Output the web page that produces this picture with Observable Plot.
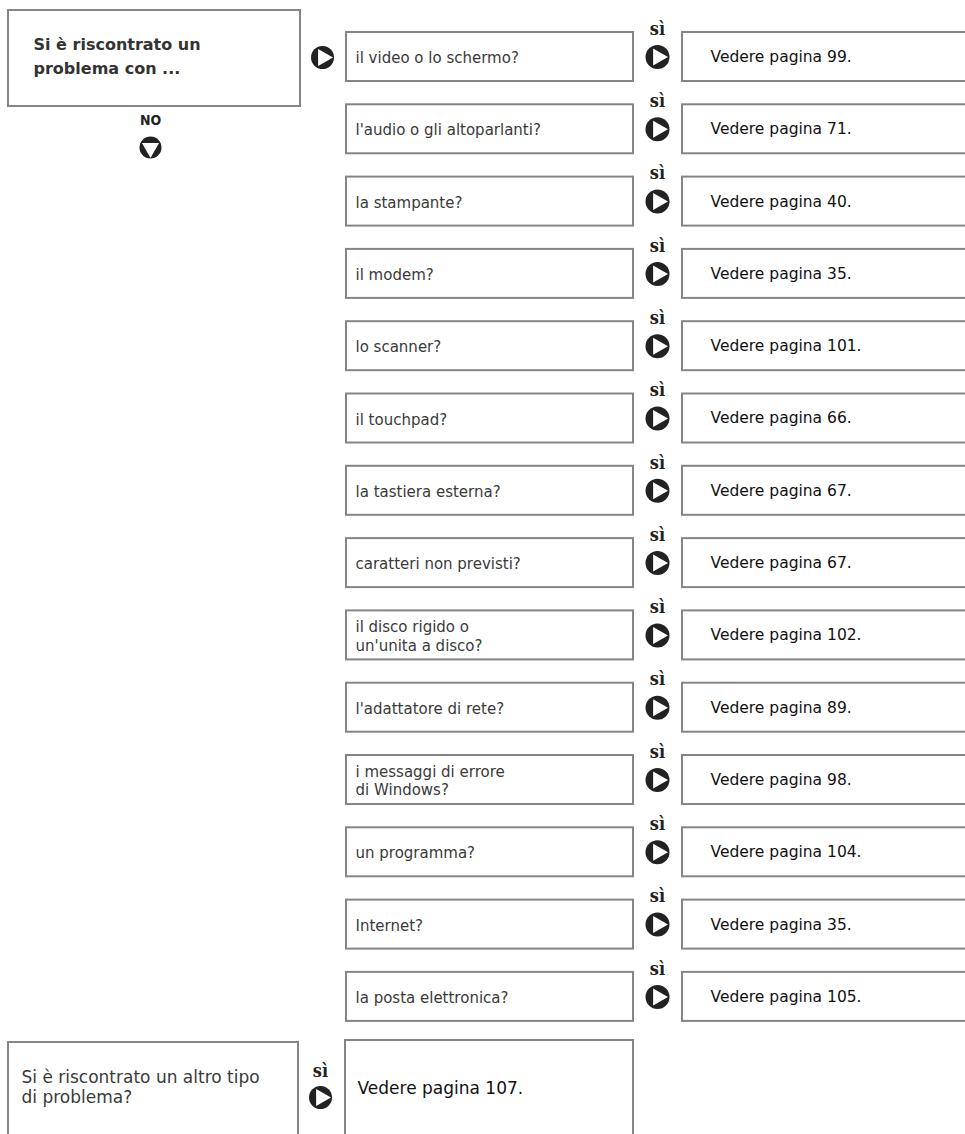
<!DOCTYPE html>
<html>
<head>
<meta charset="utf-8">
<script src="https://cdn.jsdelivr.net/npm/d3@7"></script>
<script src="https://cdn.jsdelivr.net/npm/@observablehq/plot@0.6"></script>
<style>
  html, body { margin: 0; padding: 0; background: #fff; }
  #chart svg { display: block; }
</style>
</head>
<body>
<div id="chart"></div>
<script>
// ---- data ----
const startQuestion = "Si è riscontrato un\nproblema con ...";
const questions = [
  "il video o lo schermo?",
  "l'audio o gli altoparlanti?",
  "la stampante?",
  "il modem?",
  "lo scanner?",
  "il touchpad?",
  "la tastiera esterna?",
  "caratteri non previsti?",
  "il disco rigido o\nun'unita a disco?",
  "l'adattatore di rete?",
  "i messaggi di errore\ndi Windows?",
  "un programma?",
  "Internet?",
  "la posta elettronica?"
];
const pages = [99, 71, 40, 35, 101, 66, 67, 67, 102, 89, 98, 104, 35, 105];
const otherQuestion = "Si è riscontrato un altro tipo\ndi problema?";
const otherPage = 107;
const yesLabel = "sì";
const noLabel = "NO";
const pagePrefix = "Vedere pagina ";

// ---- layout helpers ----
const rowTop = i => 32 + i * 72.3;
const rowH = 49;
const rowMid = i => rowTop(i) + rowH / 2;

const rows = questions.map((q, i) => ({q, page: pages[i], i}));

const rightTri = {draw(ctx, size) { const r = Math.sqrt(size); ctx.moveTo(-r*0.45, -r*0.6); ctx.lineTo(r*0.6, 0); ctx.lineTo(-r*0.45, r*0.6); ctx.closePath(); }};
const downTri = {draw(ctx, size) { const r = Math.sqrt(size); ctx.moveTo(-r*0.6, -r*0.45); ctx.lineTo(r*0.6, -r*0.45); ctx.lineTo(0, r*0.6); ctx.closePath(); }};

const boxStroke = "#858585";
const qFont = "'DejaVu Sans', sans-serif";
const yesFont = "'DejaVu Serif Condensed', serif";

const startNode = [{label: startQuestion}];
const otherNode = [{label: otherQuestion, page: otherPage}];

const chart = Plot.plot({
  width: 965,
  height: 1134,
  margin: 0,
  x: {domain: [0, 965], range: [0, 965], axis: null},
  y: {domain: [0, 1134], range: [0, 1134], axis: null},
  marks: [
    // start box
    Plot.rect(startNode, {x1: () => 8, x2: () => 300, y1: () => 10, y2: () => 106, fill: "white", stroke: boxStroke, strokeWidth: 2}),
    Plot.text(startNode, {x: () => 33, y: () => 54, text: "label", textAnchor: "start", fontSize: 16, fontWeight: "bold", fontFamily: "'DejaVu Sans', sans-serif", fill: "#333", lineHeight: 1.5}),
    // arrow start -> questions
    Plot.dot(startNode, {x: () => 322, y: () => 57, r: 11.5, fill: "#222", stroke: "none"}),
    Plot.dot(startNode, {x: () => 324, y: () => 57, symbol: rightTri, r: 8, fill: "white", stroke: "none"}),
    // NO arrow
    Plot.text(startNode, {x: () => 150, y: () => 120, text: () => noLabel, fontSize: 14, fontWeight: "bold", fontFamily: "'DejaVu Sans Condensed', sans-serif", fill: "#222"}),
    Plot.dot(startNode, {x: () => 150, y: () => 147, r: 11, fill: "#222", stroke: "none"}),
    Plot.dot(startNode, {x: () => 150, y: () => 149, symbol: downTri, r: 8, fill: "white", stroke: "none"}),

    // question boxes
    Plot.rect(rows, {x1: () => 346, x2: () => 633, y1: d => rowTop(d.i), y2: d => rowTop(d.i) + rowH, fill: "white", stroke: boxStroke, strokeWidth: 2}),
    Plot.text(rows, {x: () => 355, y: d => rowMid(d.i), text: "q", textAnchor: "start", fontSize: 15, fontFamily: qFont, fill: "#3a3a3a", lineHeight: 1.25}),

    // yes labels + arrows
    Plot.text(rows, {x: () => 657, y: d => rowMid(d.i) - 28, text: () => yesLabel, fontSize: 18, fontWeight: "bold", fontFamily: yesFont, fill: "#222"}),
    Plot.dot(rows, {x: () => 657, y: d => rowMid(d.i), r: 12, fill: "#222", stroke: "none"}),
    Plot.dot(rows, {x: () => 659, y: d => rowMid(d.i), symbol: rightTri, r: 8, fill: "white", stroke: "none"}),

    // answer boxes
    Plot.rect(rows, {x1: () => 682, x2: () => 975, y1: d => rowTop(d.i), y2: d => rowTop(d.i) + rowH, fill: "white", stroke: boxStroke, strokeWidth: 2}),
    Plot.text(rows, {x: () => 710, y: d => rowMid(d.i), text: d => pagePrefix + d.page + ".", textAnchor: "start", fontSize: 15.5, fontFamily: "'DejaVu Sans', sans-serif", fill: "#111"}),

    // other problem
    Plot.rect(otherNode, {x1: () => 8, x2: () => 298, y1: () => 1042, y2: () => 1150, fill: "white", stroke: boxStroke, strokeWidth: 2}),
    Plot.text(otherNode, {x: () => 21, y: () => 1086, text: "label", textAnchor: "start", fontSize: 17, fontFamily: qFont, fill: "#3a3a3a", lineHeight: 1.2}),
    Plot.text(otherNode, {x: () => 320, y: () => 1071, text: () => yesLabel, fontSize: 18, fontWeight: "bold", fontFamily: yesFont, fill: "#222"}),
    Plot.dot(otherNode, {x: () => 320, y: () => 1097, r: 11.5, fill: "#222", stroke: "none"}),
    Plot.dot(otherNode, {x: () => 322, y: () => 1097, symbol: rightTri, r: 8, fill: "white", stroke: "none"}),
    Plot.rect(otherNode, {x1: () => 345, x2: () => 633, y1: () => 1040, y2: () => 1150, fill: "white", stroke: boxStroke, strokeWidth: 2}),
    Plot.text(otherNode, {x: () => 357, y: () => 1088, text: d => pagePrefix + d.page + ".", textAnchor: "start", fontSize: 17, fontFamily: "'DejaVu Sans', sans-serif", fill: "#111"})
  ]
});
document.getElementById("chart").append(chart);
</script>
</body>
</html>
